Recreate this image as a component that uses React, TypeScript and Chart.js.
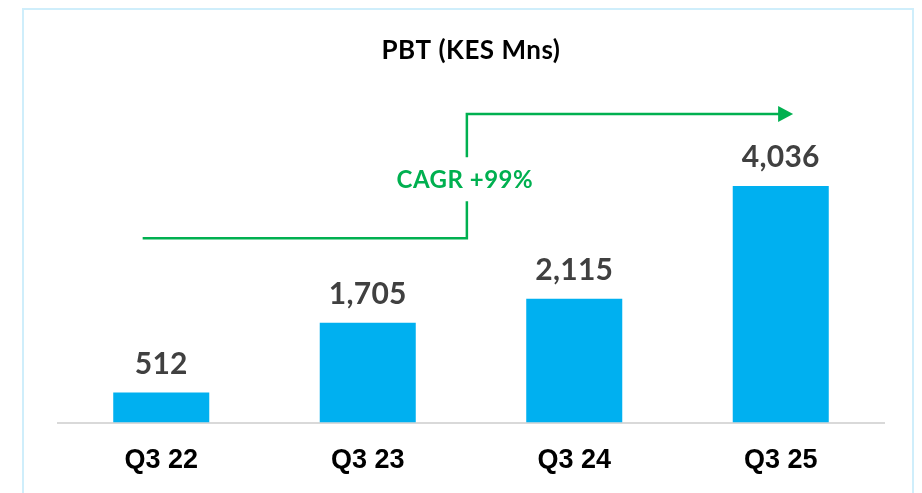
import React, { useEffect, useRef } from "react";
import { Chart, registerables } from "chart.js";

Chart.register(...registerables);

const categories = ["Q3 22", "Q3 23", "Q3 24", "Q3 25"];
const pbtValues = [512, 1705, 2115, 4036];
const chartTitle = "PBT (KES Mns)";
const cagrLabel = "CAGR +99%";
// CAGR arrow anchors in data units: x as category index, y as value
const cagrArrowX = [-0.09, 1.48, 3.06];
const cagrArrowY = [3145, 5265];
const yAxisMax = 6000;

const overlayPlugin = {
  id: "overlay",
  afterDatasetsDraw(chart: any) {
    const { ctx, chartArea, scales } = chart;
    const xs = scales.x;
    const ys = scales.y;
    ctx.save();

    // Title
    ctx.font = "bold 26px Lato";
    ctx.fillStyle = "#000000";
    ctx.textAlign = "center";
    ctx.textBaseline = "middle";
    (ctx as any).letterSpacing = "0.5px";
    ctx.fillText(chartTitle, (chartArea.left + chartArea.right) / 2, 51);

    // Value labels
    ctx.font = "bold 30px Lato";
    ctx.fillStyle = "#404040";
    ctx.textBaseline = "alphabetic";
    (ctx as any).letterSpacing = "0.3px";
    const meta = chart.getDatasetMeta(0);
    meta.data.forEach((bar: any, i: number) => {
      ctx.fillText(pbtValues[i].toLocaleString("en-US"), bar.x, bar.y - 19);
    });

    // CAGR arrow
    const x0 = xs.getPixelForValue(cagrArrowX[0]);
    const x1 = xs.getPixelForValue(cagrArrowX[1]);
    const x2 = xs.getPixelForValue(cagrArrowX[2]);
    const yb = ys.getPixelForValue(cagrArrowY[0]);
    const yt = ys.getPixelForValue(cagrArrowY[1]);
    const midY = (yb + yt) / 2 + 4;
    const green = "#00b050";
    ctx.strokeStyle = green;
    ctx.fillStyle = green;
    ctx.lineWidth = 2.5;
    ctx.beginPath();
    ctx.moveTo(x0, yb);
    ctx.lineTo(x1, yb);
    ctx.lineTo(x1, midY + 21);
    ctx.moveTo(x1, midY - 23);
    ctx.lineTo(x1, yt);
    ctx.lineTo(x2 - 14, yt);
    ctx.stroke();
    ctx.beginPath();
    ctx.moveTo(x2, yt);
    ctx.lineTo(x2 - 15, yt - 8);
    ctx.lineTo(x2 - 15, yt + 8);
    ctx.closePath();
    ctx.fill();

    ctx.font = "bold 24px Lato";
    ctx.textAlign = "center";
    ctx.textBaseline = "middle";
    (ctx as any).letterSpacing = "0.5px";
    ctx.fillText(cagrLabel, x1 - 2, midY);

    ctx.restore();
  },
};

export default function App() {
  const canvasRef = useRef<HTMLCanvasElement | null>(null);

  useEffect(() => {
    document.body.style.margin = "0";
    const canvas = canvasRef.current;
    if (!canvas) return;
    const chart = new Chart(canvas, {
      type: "bar",
      data: {
        labels: categories,
        datasets: [
          {
            data: pbtValues,
            backgroundColor: "#00b0f0",
            borderWidth: 0,
            categoryPercentage: 1,
            barPercentage: 0.465,
          },
        ],
      },
      options: {
        animation: false,
        responsive: false,
        maintainAspectRatio: false,
        devicePixelRatio: 1,
        layout: { padding: { left: 58, right: 38, top: 71, bottom: -5 } },
        plugins: {
          legend: { display: false },
          tooltip: { enabled: false },
          title: { display: false },
        },
        scales: {
          x: {
            grid: { display: false, drawTicks: false },
            border: { display: true, color: "#d9d9d9", width: 2 },
            ticks: {
              color: "#000000",
              padding: 21.5,
              font: { family: "Liberation Sans", weight: "bold", size: 27 },
            },
          },
          y: {
            display: false,
            min: 0,
            max: yAxisMax,
          },
        },
      },
      plugins: [overlayPlugin],
    });
    return () => chart.destroy();
  }, []);

  return (
    <div style={{ position: "relative", width: 922, height: 493, background: "#ffffff", overflow: "hidden" }}>
      <div
        style={{
          position: "absolute",
          left: 22,
          top: 8,
          width: 888,
          height: 520,
          border: "2px solid #cfeefb",
          background: "#ffffff",
        }}
      />
      <canvas ref={canvasRef} width={922} height={493} style={{ position: "absolute", left: 0, top: 0 }} />
    </div>
  );
}
